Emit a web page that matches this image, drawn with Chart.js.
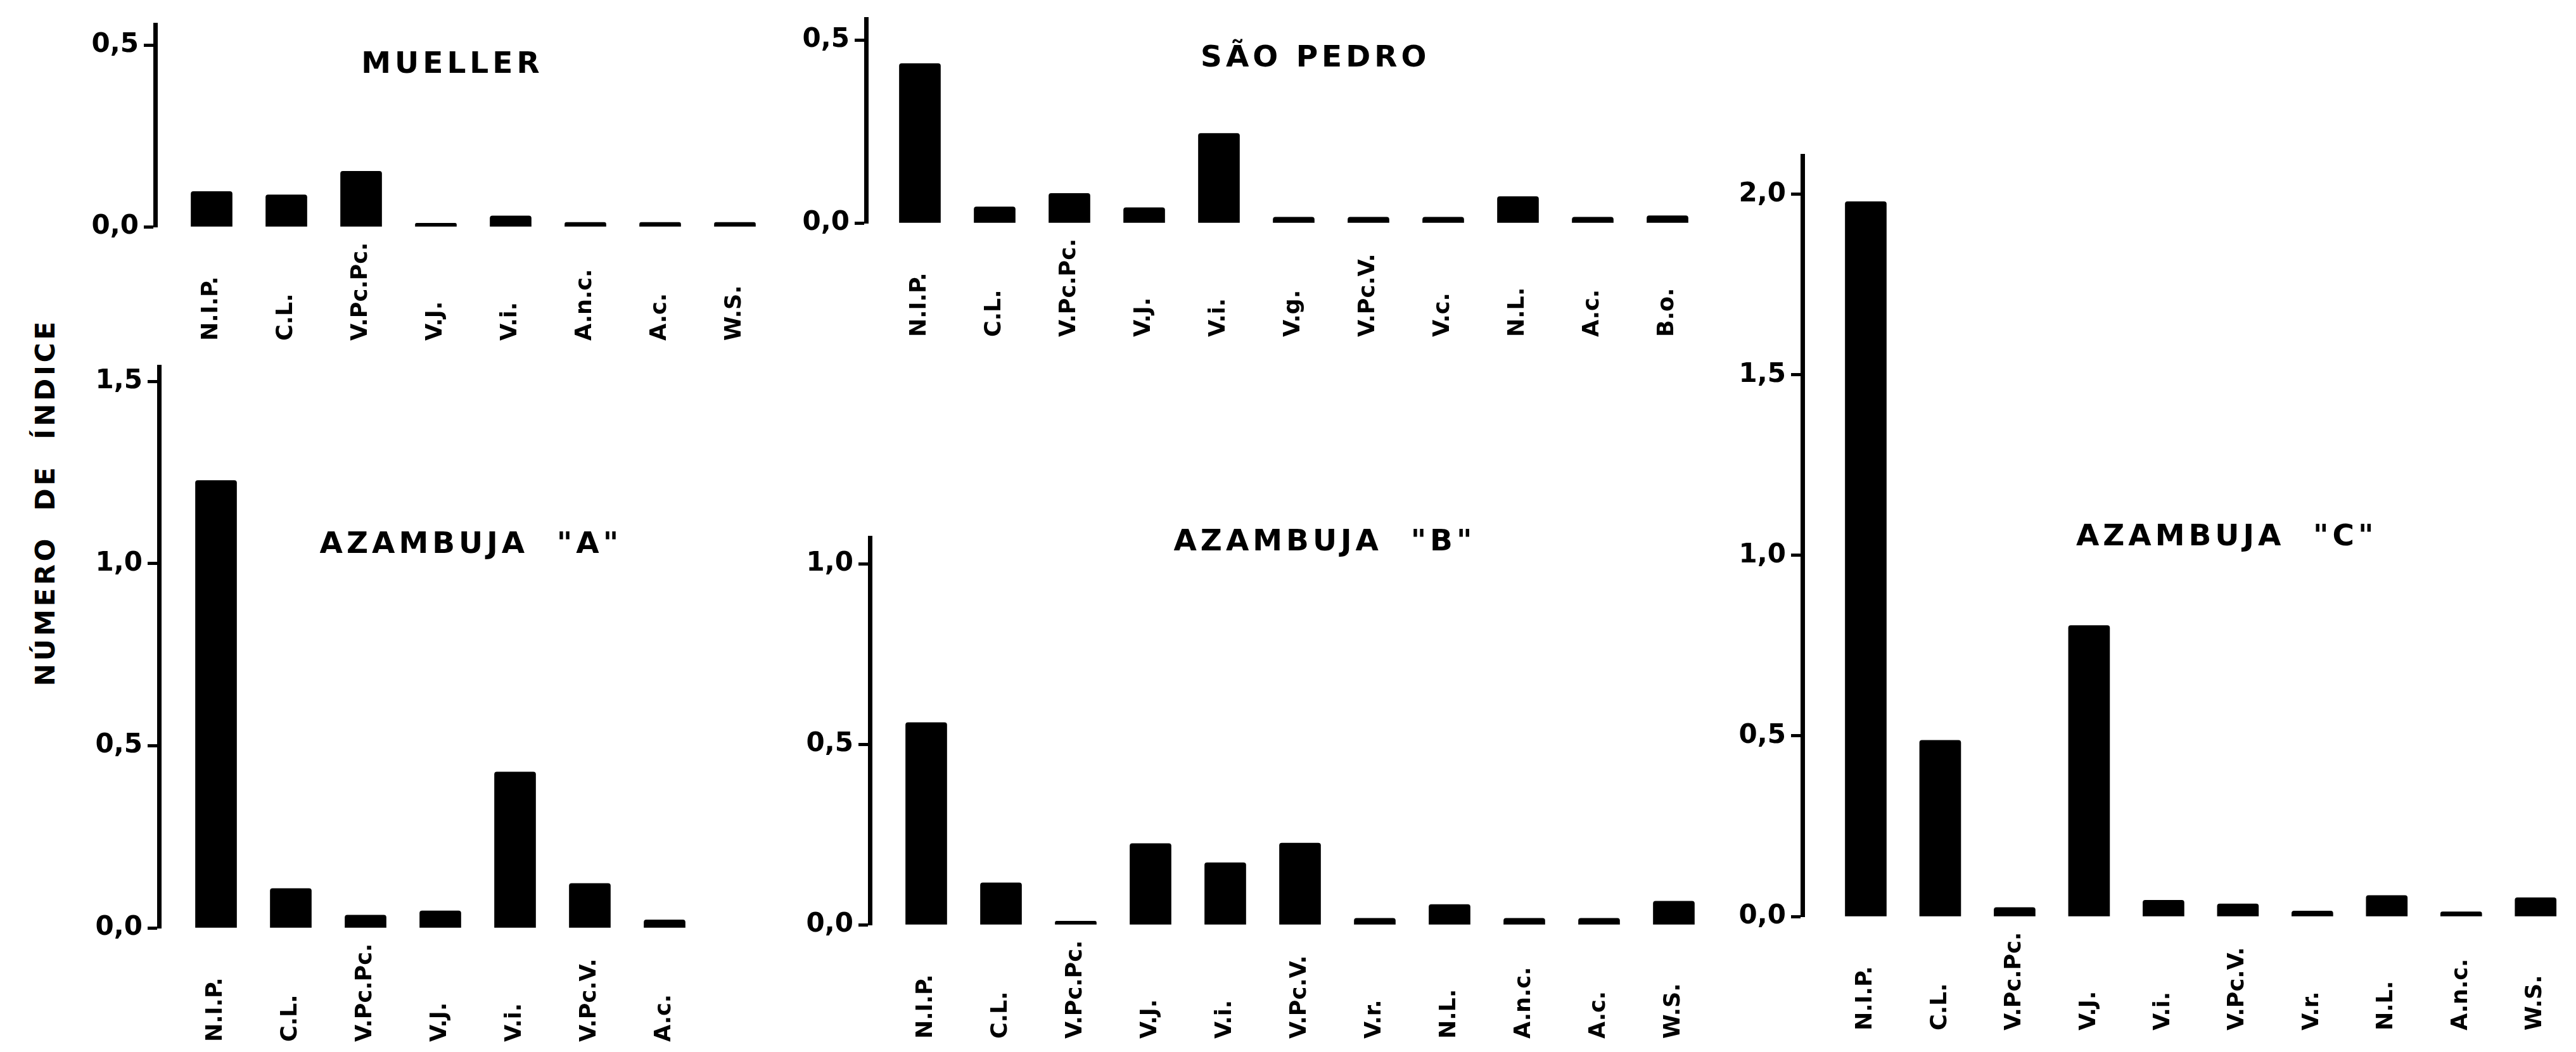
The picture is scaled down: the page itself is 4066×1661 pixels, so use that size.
<!DOCTYPE html>
<html>
<head>
<meta charset="utf-8">
<script src="https://cdn.jsdelivr.net/npm/chart.js@4"></script>
<style>
  html, body { margin: 0; padding: 0; background: #fff; width: 4066px; height: 1661px; overflow: hidden; }
  .panel { position: absolute; }
  #ytitle {
    position: absolute; width: 700px; height: 50px; line-height: 50px;
    left: -278px; top: 768px; text-align: center; white-space: pre;
    transform: rotate(-90deg);
    font: bold 42px "DejaVu Sans"; letter-spacing: 5px; color: #000;
  }
</style>
</head>
<body>
<div id="ytitle">NÚMERO  DE  ÍNDICE</div>
<script>
  // values (numero de indice per species group)
  const muellerLabels = ["N.I.P.", "C.L.", "V.Pc.Pc.", "V.J.", "V.i.", "A.n.c.", "A.c.", "W.S."];
  const muellerValues = [0.097, 0.088, 0.153, 0.01, 0.03, 0.012, 0.012, 0.012];

  const saoPedroLabels = ["N.I.P.", "C.L.", "V.Pc.Pc.", "V.J.", "V.i.", "V.g.", "V.Pc.V.", "V.c.", "N.L.", "A.c.", "B.o."];
  const saoPedroValues = [0.436, 0.044, 0.081, 0.042, 0.245, 0.016, 0.016, 0.016, 0.072, 0.016, 0.02];

  const azambujaALabels = ["N.I.P.", "C.L.", "V.Pc.Pc.", "V.J.", "V.i.", "V.Pc.V.", "A.c."];
  const azambujaAValues = [1.228, 0.108, 0.035, 0.047, 0.428, 0.122, 0.022];

  const azambujaBLabels = ["N.I.P.", "C.L.", "V.Pc.Pc.", "V.J.", "V.i.", "V.Pc.V.", "V.r.", "N.L.", "A.n.c.", "A.c.", "W.S."];
  const azambujaBValues = [0.56, 0.116, 0.01, 0.225, 0.172, 0.226, 0.018, 0.056, 0.018, 0.018, 0.065];

  const azambujaCLabels = ["N.I.P.", "C.L.", "V.Pc.Pc.", "V.J.", "V.i.", "V.Pc.V.", "V.r.", "N.L.", "A.n.c.", "W.S."];
  const azambujaCValues = [1.98, 0.488, 0.025, 0.806, 0.045, 0.035, 0.015, 0.058, 0.013, 0.052];

  // layout of each panel on the page (pixels), titles placed in data units
  const panels = [
    { labels: muellerLabels, values: muellerValues, title: "MUELLER", titleAt: [3.22, 0.445],
      axisX: 245, topY: 39, zeroY: 358, yMax: 0.556, firstX: 334, step: 118 },
    { labels: saoPedroLabels, values: saoPedroValues, title: "SÃO PEDRO", titleAt: [5.29, 0.45],
      axisX: 1367, topY: 30, zeroY: 352, yMax: 0.558, firstX: 1452, step: 118 },
    { labels: azambujaALabels, values: azambujaAValues, title: 'AZAMBUJA  "A"', titleAt: [3.41, 1.05],
      axisX: 251, topY: 579, zeroY: 1465, yMax: 1.54, firstX: 341, step: 118 },
    { labels: azambujaBLabels, values: azambujaBValues, title: 'AZAMBUJA  "B"', titleAt: [5.33, 1.058],
      axisX: 1373, topY: 849, zeroY: 1460, yMax: 1.072, firstX: 1462, step: 118 },
    { labels: azambujaCLabels, values: azambujaCValues, title: 'AZAMBUJA  "C"', titleAt: [4.85, 1.05],
      axisX: 2845, topY: 246, zeroY: 1447, yMax: 2.107, firstX: 2945, step: 117.5 },
  ];

  const FONT = '"DejaVu Sans", sans-serif';
  const Y_W = 140, PAD_TOP = 40, PAD_BOTTOM = 200, PAD_RIGHT = 10;

  // rotated category labels (bottom aligned) + panel title
  const panelText = {
    id: "panelText",
    afterDraw(chart, args, opts) {
      const { ctx } = chart;
      const x = chart.scales.x, y = chart.scales.y;
      ctx.save();
      ctx.fillStyle = "#000";
      ctx.font = `bold 35px ${FONT}`;
      ctx.textAlign = "left";
      ctx.textBaseline = "middle";
      const base = y.getPixelForValue(0) + 180;
      opts.labels.forEach((lab, i) => {
        ctx.save();
        ctx.translate(x.getPixelForValue(i), base);
        ctx.rotate(-Math.PI / 2);
        ctx.fillText(lab, 0, 0);
        ctx.restore();
      });
      ctx.font = `bold 47px ${FONT}`;
      ctx.letterSpacing = "6px";
      ctx.textAlign = "center";
      ctx.fillText(opts.title, x.getPixelForValue(opts.titleAt[0]), y.getPixelForValue(opts.titleAt[1]));
      ctx.restore();
    },
  };

  panels.forEach((p) => {
    const n = p.labels.length;
    const xMin = -(p.firstX - p.axisX) / p.step;
    const xMax = n - 0.5;
    const areaW = (xMax - xMin) * p.step;
    const areaH = p.zeroY - p.topY;
    const w = Math.round(Y_W + areaW + PAD_RIGHT);
    const h = Math.round(PAD_TOP + areaH + PAD_BOTTOM);

    const box = document.createElement("div");
    box.className = "panel";
    box.style.left = (p.axisX - Y_W) + "px";
    box.style.top = (p.topY - PAD_TOP) + "px";
    const canvas = document.createElement("canvas");
    canvas.width = w;
    canvas.height = h;
    box.appendChild(canvas);
    document.body.appendChild(box);

    new Chart(canvas, {
      type: "bar",
      data: {
        datasets: [{
          data: p.values.map((v, i) => ({ x: i, y: v })),
          backgroundColor: "#000",
          borderWidth: 0,
          borderRadius: 4,
          barThickness: 65,
        }],
      },
      options: {
        responsive: false,
        animation: false,
        devicePixelRatio: 1,
        layout: { padding: { top: PAD_TOP, bottom: PAD_BOTTOM, left: 0, right: PAD_RIGHT } },
        plugins: {
          legend: { display: false },
          tooltip: { enabled: false },
          panelText: { labels: p.labels, title: p.title, titleAt: p.titleAt },
        },
        scales: {
          x: { type: "linear", display: false, offset: false, grid: { offset: false }, min: xMin, max: xMax },
          y: {
            min: 0,
            max: p.yMax,
            afterFit(s) { s.width = Y_W; },
            ticks: {
              stepSize: 0.5,
              includeBounds: false,
              padding: 8,
              color: "#000",
              font: { family: FONT, size: 42, weight: "bold" },
              callback: (v) => v.toFixed(1).replace(".", ","),
            },
            grid: { drawOnChartArea: false, drawTicks: true, tickLength: 18, tickWidth: 5, tickColor: "#000" },
            border: { display: true, color: "#000", width: 7 },
          },
        },
      },
      plugins: [panelText],
    });
  });
</script>
</body>
</html>
